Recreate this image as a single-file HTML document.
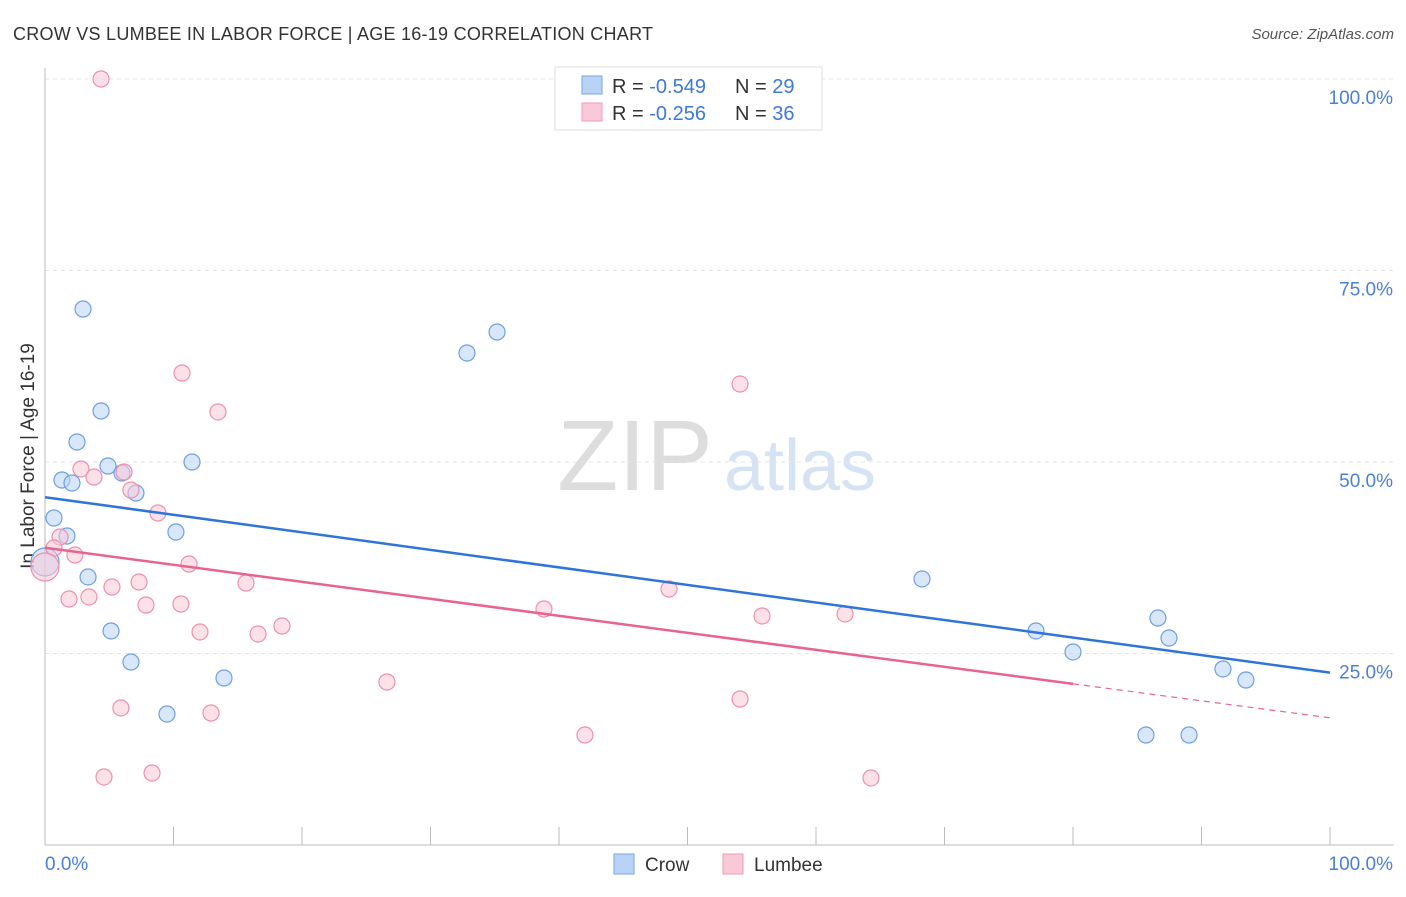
<!DOCTYPE html>
<html><head><meta charset="utf-8"><style>
body{margin:0;background:#fff;font-family:"Liberation Sans",sans-serif;}
svg text{font-family:"Liberation Sans",sans-serif;}
</style></head><body>
<svg id="c" width="1406" height="892">
<text x="13" y="40" font-size="18" fill="#333" textLength="640">CROW VS LUMBEE IN LABOR FORCE | AGE 16-19 CORRELATION CHART</text>
<text x="1394" y="39" font-size="15" fill="#555" font-style="italic" text-anchor="end">Source: ZipAtlas.com</text>
<text x="635" y="490" font-size="100" fill="#ddd" font-family="Liberation Serif" text-anchor="middle">ZIP</text>
<text x="800" y="490" font-size="72" fill="#d6e3f5" text-anchor="middle">atlas</text>
<text transform="translate(34,456) rotate(-90)" font-size="19" fill="#333" text-anchor="middle">In Labor Force | Age 16-19</text>
<g id="grid"></g><g id="marks"></g>
<g>
<rect x="555" y="67" width="267" height="63" fill="#fff" stroke="#ddd"/>
<rect x="582" y="76" width="20" height="18" fill="#b8d3f5" stroke="#7aa6e0"/>
<rect x="582" y="103" width="20" height="18" fill="#f9c9d7" stroke="#f09ab5"/>
<text x="612" y="93" font-size="20" fill="#333">R = <tspan fill="#3d78d8">-0.549</tspan></text>
<text x="735" y="93" font-size="20" fill="#333">N = <tspan fill="#3d78d8">29</tspan></text>
<text x="612" y="120" font-size="20" fill="#333">R = <tspan fill="#3d78d8">-0.256</tspan></text>
<text x="735" y="120" font-size="20" fill="#333">N = <tspan fill="#3d78d8">36</tspan></text>
</g>
<g>
<rect x="614" y="854" width="20" height="20" fill="#b8d3f5" stroke="#7aa6e0"/>
<text x="645" y="871" font-size="19" fill="#333">Crow</text>
<rect x="723" y="854" width="20" height="20" fill="#f9c9d7" stroke="#f09ab5"/>
<text x="754" y="871" font-size="19" fill="#333">Lumbee</text>
</g>
</svg>
<script>
const crowX=[2.96,4.36,2.49,1.32,2.1,4.9,5.99,7.08,11.44,0.7,1.71,0,3.35,5.14,6.69,9.49,13.93,10.19,32.84,35.18,68.25,77.12,80.0,86.61,87.47,91.67,93.46,85.68,89.03];
const crowY=[69.97,56.66,52.61,47.65,47.26,49.48,48.56,45.95,50.0,42.69,40.34,36.95,34.99,27.94,23.89,17.1,21.8,40.86,64.23,66.97,34.73,27.94,25.2,29.63,27.02,22.98,21.54,14.36,14.36];
const lumX=[4.36,10.66,13.46,2.8,3.81,6.15,6.69,8.79,1.17,0.7,2.33,0,1.87,3.42,5.21,7.32,7.86,10.58,11.21,12.06,15.64,16.58,18.44,26.61,5.91,12.92,4.59,8.33,38.83,42.02,48.56,54.09,55.8,54.09,62.26,64.28];
const lumY=[100,61.62,56.53,49.09,48.04,48.69,46.34,43.34,40.21,38.77,37.86,36.29,32.11,32.38,33.68,34.33,31.33,31.46,36.68,27.81,34.2,27.55,28.59,21.28,17.89,17.23,8.88,9.4,30.81,14.36,33.42,60.18,29.9,19.06,30.16,8.75];
const crowTrend=[45.4,22.5];
const lumTrend=[38.8,16.6];
const yTicks=[25,50,75,100];
const xTicks=[0,10,20,30,40,50,60,70,80,90,100];
const X=v=>45+12.85*v, Y=v=>845-7.66*v;
const NS="http://www.w3.org/2000/svg";
function mk(p,t,a){const e=document.createElementNS(NS,t);for(const k in a)e.setAttribute(k,a[k]);p.appendChild(e);return e;}
const g=document.getElementById('grid'),m=document.getElementById('marks');
yTicks.forEach(v=>{const l=mk(g,'line',{x1:45,x2:1394,y1:Y(v),y2:Y(v),stroke:'#e4e4e4','stroke-dasharray':'4,4'});


const t=mk(g,'text',{x:1393,y:Y(v)+25,'font-size':19,fill:'#4a7fd6','text-anchor':'end'});t.textContent=v.toFixed(1)+'%';

});
mk(g,'line',{x1:45,x2:45,y1:68,y2:845,stroke:'#bbb'});
mk(g,'line',{x1:45,x2:1394,y1:845,y2:845,stroke:'#bbb'});
xTicks.forEach(v=>{const l=mk(g,'line',{x1:X(v),x2:X(v),y1:827,y2:845,stroke:'#bbb'});

});
[[0,'0.0%','start',45],[100,'100.0%','end',1393]].forEach(a=>{const t=mk(g,'text',{x:a[3],y:870,'font-size':19,fill:'#4a7fd6','text-anchor':a[2]});t.textContent=a[1];

});
function dot(x,y,f,s){const r=(x===0)?14:8;const c=mk(m,'circle',{cx:X(x),cy:Y(y),r:r,fill:f,'fill-opacity':0.55,stroke:s,'stroke-width':1.2});return c;}
crowX.forEach((x,i)=>{const c=dot(x,crowY[i],'#b8d3f5','#6e9fe0');

});
lumX.forEach((x,i)=>{const c=dot(x,lumY[i],'#f9c9d7','#ee8fae');

});
let l=mk(m,'line',{x1:X(0),y1:Y(crowTrend[0]),x2:X(100),y2:Y(crowTrend[1]),stroke:'#2f74d8','stroke-width':2.5});


const lf=v=>lumTrend[0]+(lumTrend[1]-lumTrend[0])*v/100;
l=mk(m,'line',{x1:X(0),y1:Y(lf(0)),x2:X(80),y2:Y(lf(80)),stroke:'#e8648f','stroke-width':2.5});


l=mk(m,'line',{x1:X(80),y1:Y(lf(80)),x2:X(100),y2:Y(lf(100)),stroke:'#e8648f','stroke-width':1.2,'stroke-dasharray':'6,5'});


</script>
</body></html>
